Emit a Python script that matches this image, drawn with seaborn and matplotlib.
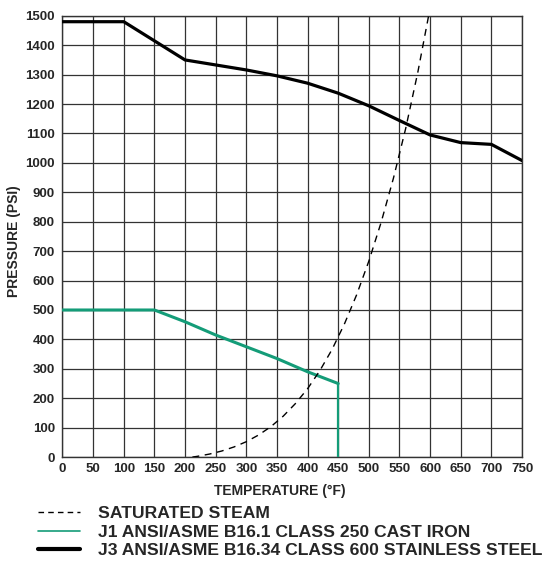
import numpy as np
import pandas as pd
import seaborn as sns
import matplotlib.pyplot as plt
from matplotlib.lines import Line2D

# values
j3_temp = [0, 100, 200, 250, 300, 350, 400, 450, 500, 550, 600, 650, 700, 750]
j3_psi = [1480, 1480, 1350, 1333, 1316, 1296, 1271, 1237, 1194, 1144, 1095, 1069, 1063, 1008]

j1_temp = [0, 150, 200, 250, 300, 350, 400, 450, 450]
j1_psi = [500, 500, 460, 415, 375, 335, 290, 250, 0]

steam_temp = [212, 220, 240, 260, 280, 300, 320, 340, 360, 380, 400, 420,
              440, 460, 480, 500, 520, 540, 560, 580, 600]
steam_psi = [0, 2.5, 10.3, 20.7, 34.5, 52.3, 75.0, 103.3, 138.6, 181.6, 232.4, 293.7,
             366.1, 451.9, 551.4, 666.3, 797.6, 947, 1116, 1309, 1527]

x_ticks = list(range(0, 751, 50))
y_ticks = list(range(0, 1501, 100))

labels = ["SATURATED STEAM",
          "J1 ANSI/ASME B16.1 CLASS 250 CAST IRON",
          "J3 ANSI/ASME B16.34 CLASS 600 STAINLESS STEEL"]

sns.set_style("white")
plt.rcParams['font.family'] = ['Liberation Sans', 'DejaVu Sans']

green = '#149c78'

fig = plt.figure(figsize=(5.53, 5.65), dpi=100)
ax = fig.add_axes([0.113, 0.191, 0.831, 0.781])

j3 = pd.DataFrame({'temp': j3_temp, 'psi': j3_psi})
j1 = pd.DataFrame({'temp': j1_temp, 'psi': j1_psi})
steam = pd.DataFrame({'temp': steam_temp, 'psi': steam_psi})

# J1 drawn as sloped part (thick) and vertical drop (thinner)
sns.lineplot(data=j1.iloc[:8], x='temp', y='psi', ax=ax, color=green, lw=2.2,
             sort=False, estimator=None, zorder=4)
sns.lineplot(data=j1.iloc[7:], x='temp', y='psi', ax=ax, color=green, lw=1.6,
             sort=False, estimator=None, zorder=4)
sns.lineplot(data=steam, x='temp', y='psi', ax=ax, color='black', lw=1.0,
             dashes=False, estimator=None, zorder=4, linestyle=(0, (5, 4)))
sns.lineplot(data=j3, x='temp', y='psi', ax=ax, color='black', lw=2.3,
             estimator=None, zorder=5)

ax.set_xlim(0, 750)
ax.set_ylim(0, 1500)
ax.set_xticks(x_ticks)
ax.set_yticks(y_ticks)
ax.grid(True, color='#333333', lw=0.9)
ax.set_axisbelow(True)
for s in ax.spines.values():
    s.set_color('#333333')
    s.set_linewidth(1.0)

ax.tick_params(length=0, labelsize=9.5)
ax.tick_params(axis='y', pad=5.5)
ax.tick_params(axis='x', pad=4)
for t in ax.get_xticklabels() + ax.get_yticklabels():
    t.set_fontweight('bold')

ax.set_xlabel("TEMPERATURE (°F)", fontsize=10, fontweight='bold', va='center')
ax.xaxis.set_label_coords(0.472, -0.0764)
ax.set_ylabel("PRESSURE (PSI)", fontsize=10, fontweight='bold', va='center')
ax.yaxis.set_label_coords(-0.106, 0.49)

handles = [Line2D([], [], color='black', lw=1.0, linestyle=(0, (4, 3))),
           Line2D([], [], color=green, lw=1.2),
           Line2D([], [], color='black', lw=3.0)]
fig.legend(handles, labels, loc='upper left', bbox_to_anchor=(0.068, 0.104),
           frameon=False, handlelength=2.4, handletextpad=1.05,
           labelspacing=0.18, borderpad=0, borderaxespad=0,
           prop={'size': 12.6, 'weight': 'bold'})

fig.savefig('out.png', dpi=100)
